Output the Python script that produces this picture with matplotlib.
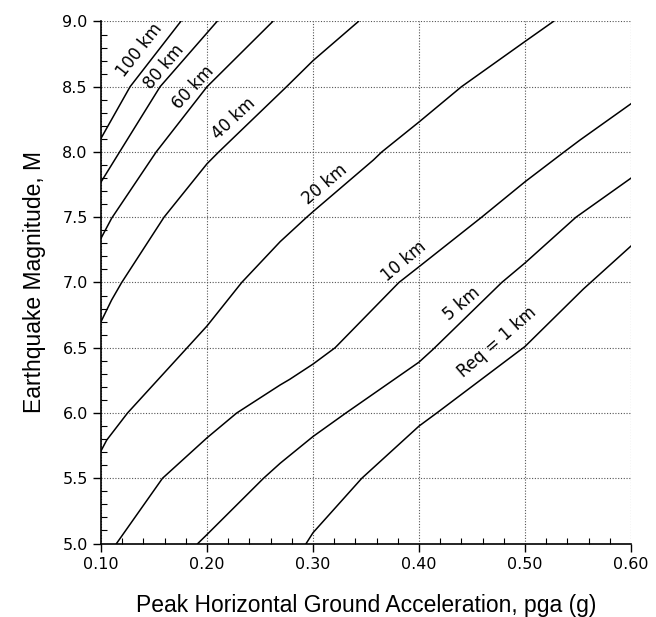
import matplotlib
matplotlib.use("Agg")
import matplotlib.pyplot as plt
from matplotlib.ticker import MultipleLocator, FormatStrFormatter

# curves: pga (g) vs magnitude, one per distance
x_100 = [0.100, 0.1274, 0.1752]
m_100 = [8.105, 8.50, 9.00]
x_80 = [0.100, 0.1175, 0.1557, 0.2094]
m_80 = [7.77, 8.00, 8.50, 9.00]
x_60 = [0.100, 0.110, 0.152, 0.200, 0.262]
m_60 = [7.339, 7.492, 8.00, 8.50, 9.00]
x_40 = [0.100, 0.110, 0.1195, 0.1594, 0.200, 0.211, 0.275, 0.300, 0.3428]
m_40 = [6.70, 6.866, 7.00, 7.50, 7.91, 8.00, 8.50, 8.70, 9.00]
x_20 = [0.100, 0.1054, 0.125, 0.1808, 0.200, 0.2327, 0.269, 0.294, 0.300,
        0.357, 0.3648, 0.400, 0.440, 0.500, 0.5267]
m_20 = [5.71, 5.793, 6.00, 6.496, 6.667, 7.00, 7.313, 7.50, 7.543,
        7.939, 8.00, 8.23, 8.50, 8.847, 9.00]
x_10 = [0.1146, 0.158, 0.200, 0.228, 0.269, 0.278, 0.300, 0.3208, 0.381,
        0.400, 0.459, 0.500, 0.5368, 0.5519, 0.600]
m_10 = [5.00, 5.50, 5.81, 6.00, 6.215, 6.258, 6.375, 6.50, 7.00,
        7.121, 7.50, 7.772, 8.00, 8.092, 8.37]
x_5 = [0.1913, 0.200, 0.2533, 0.269, 0.300, 0.331, 0.400, 0.4135, 0.478,
       0.500, 0.548, 0.600]
m_5 = [5.00, 5.069, 5.50, 5.615, 5.82, 6.00, 6.39, 6.49, 7.00,
       7.15, 7.50, 7.80]
x_1 = [0.2935, 0.300, 0.346, 0.400, 0.4167, 0.500, 0.555, 0.600]
m_1 = [5.00, 5.083, 5.50, 5.90, 6.00, 6.51, 6.95, 7.28]

curves = [(x_100, m_100), (x_80, m_80), (x_60, m_60), (x_40, m_40),
          (x_20, m_20), (x_10, m_10), (x_5, m_5), (x_1, m_1)]

labels = ["100 km", "80 km", "60 km", "40 km", "20 km", "10 km", "5 km", "Req = 1 km"]
label_x = [0.1364, 0.1594, 0.1867, 0.225, 0.311, 0.386, 0.440, 0.474]
label_m = [8.78, 8.655, 8.495, 8.255, 7.75, 7.165, 6.84, 6.545]
label_rot = [52, 50, 47, 43, 40, 40, 40, 41]

fig = plt.figure(figsize=(6.56, 6.17), dpi=100)
ax = fig.add_axes([0.154, 0.1191, 0.808, 0.8461])

for xs, ms in curves:
    ax.plot(xs, ms, color="black", lw=1.1)

for t, lx, lm, r in zip(labels, label_x, label_m, label_rot):
    ax.text(lx, lm, t, rotation=r, ha="center", va="center",
            fontsize=12, rotation_mode="anchor")

ax.set_xlim(0.10, 0.60)
ax.set_ylim(5.0, 9.0)
ax.xaxis.set_major_locator(MultipleLocator(0.1))
ax.xaxis.set_minor_locator(MultipleLocator(0.02))
ax.yaxis.set_major_locator(MultipleLocator(0.5))
ax.yaxis.set_minor_locator(MultipleLocator(0.1))
ax.xaxis.set_major_formatter(FormatStrFormatter("%.2f"))
ax.yaxis.set_major_formatter(FormatStrFormatter("%.1f"))

ax.grid(True, which="major", color="#555555", ls=(0, (1, 1.5)), lw=0.8)
ax.tick_params(which="major", direction="out", length=6, width=1, labelsize=11.5)
ax.tick_params(which="minor", direction="in", length=4, width=0.8)

for s in ["top", "right"]:
    ax.spines[s].set_visible(False)
ax.spines["left"].set_linewidth(1.2)
ax.spines["bottom"].set_linewidth(1.2)

ax.set_xlabel("Peak Horizontal Ground Acceleration, pga (g)",
              family="Liberation Sans", fontsize=16.5, labelpad=16)
ax.set_ylabel("Earthquake Magnitude, M", family="Liberation Sans",
              fontsize=16.5, labelpad=12)

fig.savefig("out.png", dpi=100)
